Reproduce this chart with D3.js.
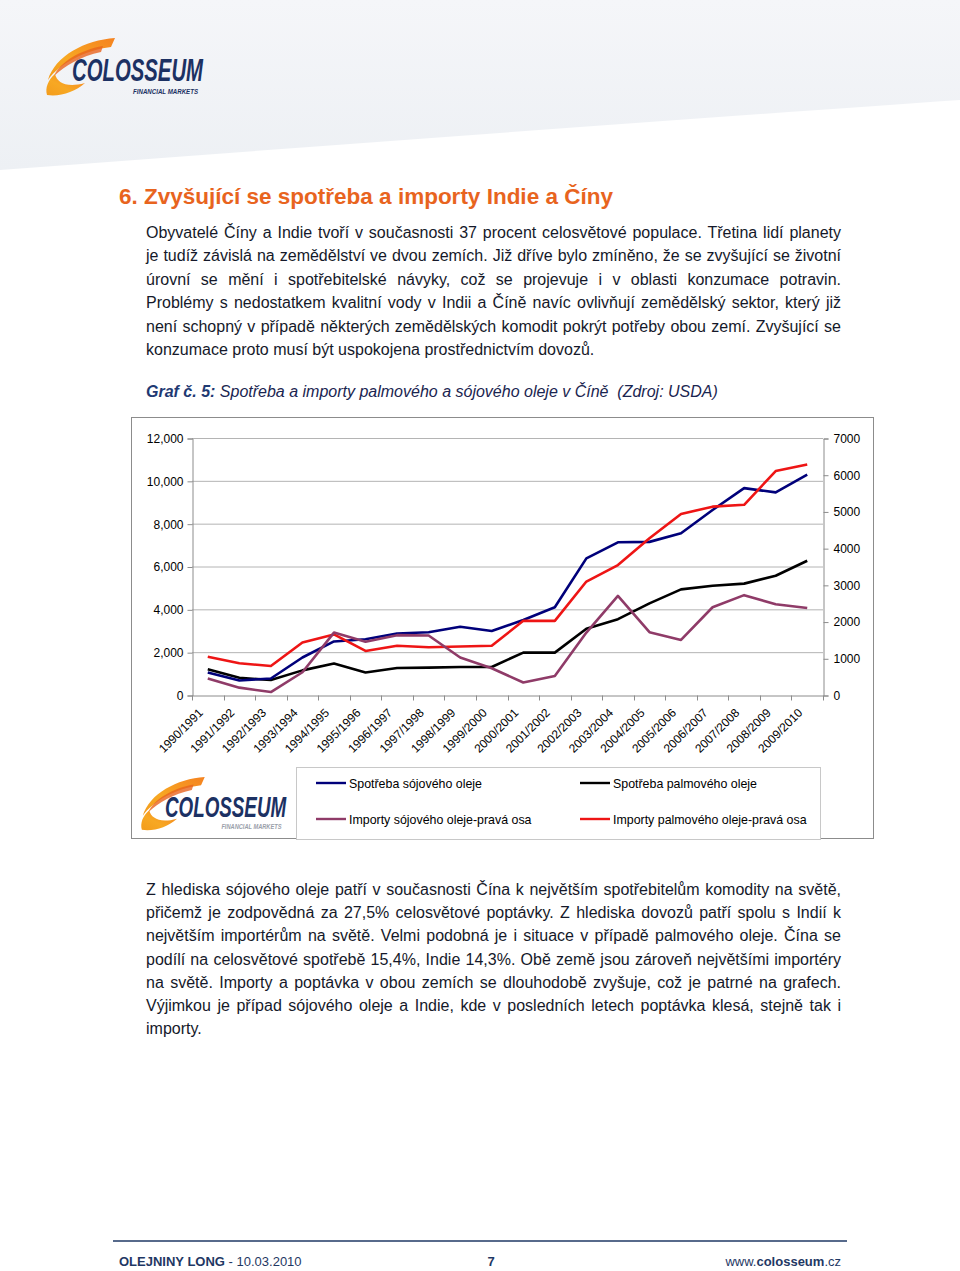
<!DOCTYPE html>
<html>
<head>
<meta charset="utf-8">
<script src="https://cdn.jsdelivr.net/npm/d3@7"></script>
<style>
  html, body { margin: 0; padding: 0; background: #fff; }
  svg { display: block; }
  text { font-family: "Liberation Sans", Arial, sans-serif; }
</style>
</head>
<body>
<svg id="page" width="960" height="1271"></svg>
<script>
// ---------- DATA ----------
const categories = ["1990/1991","1991/1992","1992/1993","1993/1994","1994/1995","1995/1996","1996/1997","1997/1998","1998/1999","1999/2000","2000/2001","2001/2002","2002/2003","2003/2004","2004/2005","2005/2006","2006/2007","2007/2008","2008/2009","2009/2010"];
// left axis
const soyConsumption  = [1050, 680, 770, 1750, 2500, 2600, 2870, 2930, 3190, 2990, 3500, 4100, 6380, 7130, 7150, 7550, 8640, 9660, 9460, 10290];
const palmConsumption = [1200, 800, 700, 1150, 1470, 1050, 1260, 1280, 1310, 1310, 1980, 1980, 3090, 3540, 4280, 4930, 5100, 5200, 5570, 6270];
// right axis
const soyImports  = [450, 200, 80, 620, 1700, 1450, 1630, 1620, 1020, 730, 340, 520, 1700, 2700, 1710, 1500, 2390, 2720, 2470, 2370];
const palmImports = [1040, 865, 790, 1430, 1650, 1200, 1340, 1300, 1320, 1340, 2020, 2020, 3090, 3540, 4270, 4930, 5130, 5180, 6100, 6280];
const leftTicks  = [0, 2000, 4000, 6000, 8000, 10000, 12000];
const rightTicks = [0, 1000, 2000, 3000, 4000, 5000, 6000, 7000];
const seriesNames = ["Spotřeba sójového oleje", "Spotřeba palmového oleje", "Importy sójového oleje-pravá osa", "Importy palmového oleje-pravá osa"];

const title = "6. Zvyšující se spotřeba a importy Indie a Číny";
const para1 = [
  "Obyvatelé Číny a Indie tvoří v současnosti 37 procent celosvětové populace. Třetina lidí planety",
  "je tudíž závislá na zemědělství ve dvou zemích. Již dříve bylo zmíněno, že se zvyšující se životní",
  "úrovní se mění i spotřebitelské návyky, což se projevuje i v oblasti konzumace potravin.",
  "Problémy s nedostatkem kvalitní vody v Indii a Číně navíc ovlivňují zemědělský sektor, který již",
  "není schopný v případě některých zemědělských komodit pokrýt potřeby obou zemí. Zvyšující se",
  "konzumace proto musí být uspokojena prostřednictvím dovozů."
];
const para2 = [
  "Z hlediska sójového oleje patří v současnosti Čína k největším spotřebitelům komodity na světě,",
  "přičemž je zodpovědná za 27,5% celosvětové poptávky. Z hlediska dovozů patří spolu s Indií k",
  "největším importérům na světě. Velmi podobná je i situace v případě palmového oleje. Čína se",
  "podílí na celosvětové spotřebě 15,4%, Indie 14,3%. Obě země jsou zároveň největšími importéry",
  "na světě. Importy a poptávka v obou zemích se dlouhodobě zvyšuje, což je patrné na grafech.",
  "Výjimkou je případ sójového oleje a Indie, kde v posledních letech poptávka klesá, stejně tak i",
  "importy."
];

// ---------- PAGE ----------
const svg = d3.select("#page");
const defs = svg.append("defs");

const hg = defs.append("linearGradient").attr("id","hdr").attr("x1",0).attr("y1",0).attr("x2",0).attr("y2",1);
hg.append("stop").attr("offset","0%").attr("stop-color","#f5f6f9");
hg.append("stop").attr("offset","100%").attr("stop-color","#edf0f4");
svg.append("path")
  .attr("d","M0,0 L960,0 L960,100 Q600,125 0,170 Z")
  .attr("fill","url(#hdr)");

const og = defs.append("linearGradient").attr("id","orng").attr("x1",1).attr("y1",0).attr("x2",0).attr("y2",1);
og.append("stop").attr("offset","0%").attr("stop-color","#f58220");
og.append("stop").attr("offset","60%").attr("stop-color","#f7a823");
og.append("stop").attr("offset","100%").attr("stop-color","#f39c1c");

function drawLogo(tx, ty, s, subColor) {
  const g = svg.append("g").attr("transform",`translate(${tx},${ty}) scale(${s})`);
  g.append("path").attr("d","M70,0 C40,2 10,18 3,42 C14,26 40,12 66,9 Z").attr("fill","url(#orng)");
  g.append("path").attr("d","M58,8 C35,12 15,24 9,38 C20,28 36,18 56,14 Z").attr("fill","#e8641e").attr("opacity",0.8);
  g.append("path").attr("d","M2,57 C0,50 3,42 10,36 C12,45 22,50 40,45 C30,54 15,59 2,57 Z").attr("fill","url(#orng)");
  g.append("text").attr("x",27).attr("y",43)
    .attr("font-size",31).attr("font-weight","bold").attr("font-style","italic")
    .attr("fill","#1c3163").attr("textLength",131).attr("lengthAdjust","spacingAndGlyphs")
    .text("COLOSSEUM");
  g.append("text").attr("x",88).attr("y",56)
    .attr("font-size",7).attr("font-weight","bold").attr("font-style","italic")
    .attr("fill",subColor).attr("textLength",65).attr("lengthAdjust","spacingAndGlyphs")
    .text("FINANCIAL MARKETS");
}
drawLogo(45, 38, 1, "#1c3163");

// title
svg.append("text").attr("x",119).attr("y",204)
  .attr("font-size",22.5).attr("font-weight","bold").attr("fill","#e8641e").text(title);

const textColor = "#15192a";
function justifiedLines(lines, x0, x1, y0, lh, lastJustified) {
  lines.forEach((ln, i) => {
    const t = svg.append("text").attr("x",x0).attr("y",y0 + i*lh)
      .attr("font-size",16).attr("fill",textColor).text(ln);
    const isLast = i === lines.length - 1;
    if (!isLast || lastJustified) {
      const w = t.node().getComputedTextLength();
      const spaces = (ln.match(/ /g) || []).length;
      if (spaces > 0) t.attr("word-spacing", ((x1 - x0) - w) / spaces);
    }
  });
}
justifiedLines(para1, 146, 841, 238, 23.4, false);

// caption
const cap = svg.append("text").attr("x",146).attr("y",397).attr("font-size",16).attr("font-style","italic").attr("fill","#1a2550");
cap.append("tspan").attr("font-weight","bold").attr("fill","#1f3a73").text("Graf č. 5:");
cap.append("tspan").text(" Spotřeba a importy palmového a sójového oleje v Číně  (Zdroj: USDA)").attr("xml:space","preserve");

// ---------- CHART ----------
svg.append("rect").attr("x",131.5).attr("y",417.5).attr("width",742).attr("height",421)
  .attr("fill","#fff").attr("stroke","#8c8c8c").attr("stroke-width",1);

const x = d3.scaleBand().domain(categories).range([192, 823]);
const cx = d => x(d) + x.bandwidth()/2;
const yL = d3.scaleLinear().domain([0, 12000]).range([695, 438]);
const yR = d3.scaleLinear().domain([0, 7000]).range([695, 438]);

// gridlines
svg.append("g").selectAll("line").data(leftTicks.slice(1)).join("line")
  .attr("x1",192).attr("x2",823).attr("y1",d=>yL(d)+0.5).attr("y2",d=>yL(d)+0.5)
  .attr("stroke","#b4b4b4").attr("stroke-width",1);

const axL = svg.append("g").attr("transform","translate(192.5,0.5)")
  .call(d3.axisLeft(yL).tickValues(leftTicks).tickFormat(d3.format(",")).tickSize(5).tickPadding(4));
const axR = svg.append("g").attr("transform","translate(823.5,0.5)")
  .call(d3.axisRight(yR).tickValues(rightTicks).tickFormat(d3.format("d")).tickSize(5).tickPadding(5));
[axL, axR].forEach(a => {
  a.select(".domain").attr("stroke","#8c8c8c");
  a.selectAll(".tick line").attr("stroke","#8c8c8c");
  a.selectAll(".tick text").attr("font-size",12).attr("fill","#000").attr("font-family","Liberation Sans, Arial, sans-serif");
});

const axB = svg.append("g").attr("transform","translate(0,695.5)")
  .call(d3.axisBottom(x).tickSize(0).tickPadding(0));
axB.select(".domain").attr("stroke","#8c8c8c");
axB.selectAll(".tick text")
  .attr("font-size",12).attr("fill","#000").attr("font-family","Liberation Sans, Arial, sans-serif")
  .attr("text-anchor","end").attr("dy",0)
  .attr("transform","translate(-4,18) rotate(-45)");
// boundary ticks
const bounds = categories.map(c => x(c)).concat([x.range()[1]]);
axB.append("g").selectAll("line").data(bounds).join("line")
  .attr("x1",d=>Math.round(d)+0.5).attr("x2",d=>Math.round(d)+0.5).attr("y1",0).attr("y2",5)
  .attr("stroke","#8c8c8c");

const series = [
  {vals: soyConsumption,  y: yL, color: "#00007a"},
  {vals: palmConsumption, y: yL, color: "#000000"},
  {vals: soyImports,      y: yR, color: "#8f3b68"},
  {vals: palmImports,     y: yR, color: "#ee1515"}
];
const order = [1, 0, 3, 2];
order.forEach(i => {
  const s = series[i];
  const line = d3.line().x((d,k) => cx(categories[k])).y(d => s.y(d));
  svg.append("path").datum(s.vals).attr("d", line)
    .attr("fill","none").attr("stroke", s.color).attr("stroke-width",2.6)
    .attr("stroke-linejoin","round");
});

// legend
svg.append("rect").attr("x",296.5).attr("y",767.5).attr("width",524).attr("height",72)
  .attr("fill","#fff").attr("stroke","#c8c8c8");
const legPos = [[316,783],[580,783],[316,819],[580,819]];
series.forEach((s,i) => {
  const [lx, ly] = legPos[i];
  svg.append("line").attr("x1",lx).attr("x2",lx+30).attr("y1",ly).attr("y2",ly)
    .attr("stroke",s.color).attr("stroke-width",2.4);
  svg.append("text").attr("x",lx+33).attr("y",ly+4.5).attr("font-size",12.4).attr("fill","#000").text(seriesNames[i]);
});

drawLogo(140, 777, 0.925, "#9aa0aa");

// second paragraph
justifiedLines(para2, 146, 841, 895, 23.2, false);

// footer
svg.append("line").attr("x1",113).attr("x2",847).attr("y1",1241).attr("y2",1241)
  .attr("stroke","#1f3864").attr("stroke-width",1.6);
const f1 = svg.append("text").attr("x",119).attr("y",1266).attr("font-size",13).attr("fill","#1f3864");
f1.append("tspan").attr("font-weight","bold").text("OLEJNINY LONG");
f1.append("tspan").text(" - 10.03.2010");
svg.append("text").attr("x",491).attr("y",1266).attr("font-size",13).attr("font-weight","bold")
  .attr("text-anchor","middle").attr("fill","#1f3864").text("7");
const f3 = svg.append("text").attr("x",841).attr("y",1266).attr("font-size",13).attr("text-anchor","end").attr("fill","#1f3864");
f3.append("tspan").text("www.");
f3.append("tspan").attr("font-weight","bold").text("colosseum");
f3.append("tspan").text(".cz");
</script>
</body>
</html>
